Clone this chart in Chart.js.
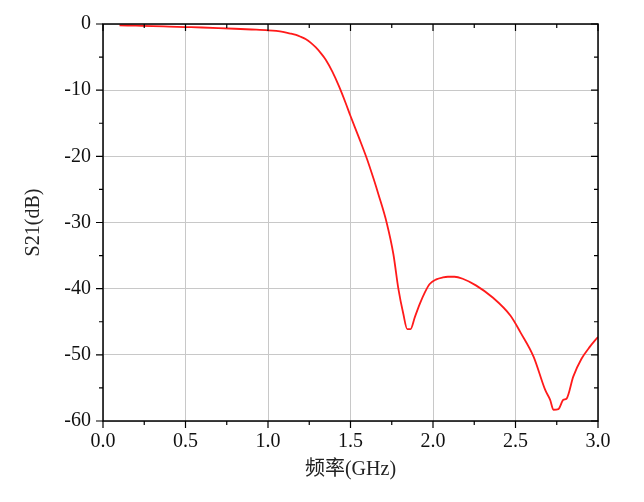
<!DOCTYPE html>
<html>
<head>
<meta charset="utf-8">
<script src="https://cdn.jsdelivr.net/npm/chart.js@4"></script>
<style>
html,body{margin:0;padding:0;background:#fff;}
#wrap{width:644px;height:502px;position:relative;}
</style>
</head>
<body>
<div id="wrap"><canvas id="c" width="644" height="502"></canvas></div>
<script>
const freq = [0.1,0.2,0.3,0.4,0.5,0.6,0.7,0.8,0.9,1.0,1.05,1.09,1.13,1.17,1.2,1.23,1.26,1.29,1.32,1.35,1.39,1.43,1.47,1.50,1.55,1.60,1.64,1.67,1.72,1.76,1.79,1.82,1.844,1.864,1.89,1.92,1.95,1.98,2.02,2.06,2.09,2.13,2.18,2.26,2.36,2.47,2.53,2.61,2.68,2.71,2.73,2.76,2.79,2.81,2.85,2.90,2.95,3.0];
const s21 = [-0.2,-0.26,-0.32,-0.39,-0.46,-0.53,-0.62,-0.72,-0.83,-0.95,-1.05,-1.18,-1.4,-1.65,-1.95,-2.3,-2.85,-3.55,-4.4,-5.4,-7.2,-9.4,-11.9,-13.9,-17.1,-20.4,-23.4,-25.8,-30.1,-34.8,-40.0,-43.8,-46.1,-46.1,-44.3,-42.3,-40.6,-39.3,-38.6,-38.3,-38.2,-38.2,-38.5,-39.5,-41.3,-44.1,-46.6,-50.3,-55.3,-56.8,-58.3,-58.2,-56.8,-56.6,-53.3,-50.6,-48.8,-47.3];
const xTicks = [0.0,0.5,1.0,1.5,2.0,2.5,3.0];
const yTicks = [0,-10,-20,-30,-40,-50,-60];
const xTitle = '频率(GHz)';
const yTitle = 'S21(dB)';

const pts = freq.map((f,i)=>({x:f,y:s21[i]}));
const FONT = "'Liberation Serif', 'Times New Roman', 'Noto Sans CJK SC', serif";

const framePlugin = {
  id:'frame',
  afterDraw(chart){
    const {ctx, chartArea:a, scales:{x,y}} = chart;
    ctx.save();
    ctx.strokeStyle='#000';
    ctx.lineWidth=1.5;
    ctx.strokeRect(a.left,a.top,a.right-a.left,a.bottom-a.top);
    ctx.lineWidth=1.2;
    ctx.beginPath();
    for(let v=0; v<=3.0001; v+=0.25){
      const px = x.getPixelForValue(v);
      const major = Math.abs(v/0.5 - Math.round(v/0.5))<1e-6;
      const L = major?7:4;
      ctx.moveTo(px,a.bottom); ctx.lineTo(px,a.bottom+L);
      ctx.moveTo(px,a.top); ctx.lineTo(px,a.top+L);
    }
    for(let v=0; v>=-60.0001; v-=5){
      const py = y.getPixelForValue(v);
      const major = Math.abs(v/10 - Math.round(v/10))<1e-6;
      const L = major?7:4;
      ctx.moveTo(a.left,py); ctx.lineTo(a.left-L,py);
      ctx.moveTo(a.right,py); ctx.lineTo(a.right-L,py);
    }
    ctx.stroke();
    ctx.restore();
  }
};

new Chart(document.getElementById('c'),{
  type:'scatter',
  data:{datasets:[{
    data:pts,
    showLine:true,
    borderColor:'#ff1a1a',
    borderWidth:1.8,
    pointRadius:0,
    cubicInterpolationMode:'monotone',
    fill:false
  }]},
  options:{
    responsive:false,
    animation:false,
    plugins:{legend:{display:false},tooltip:{enabled:false}},
    layout:{padding:{top:22,right:46,left:0,bottom:0}},
    scales:{
      x:{
        type:'linear',min:0,max:3,
        afterBuildTicks(s){ s.ticks = xTicks.map(v=>({value:v})); },
        afterFit(s){ s.height = 81; },
        grid:{color:'#c8c8c8',lineWidth:1,drawTicks:false},
        border:{display:false},
        ticks:{
          padding:9,color:'#111',
          font:{family:FONT,size:20},
          callback:v=>Number(v).toFixed(1),
          maxRotation:0
        },
        title:{display:true,text:xTitle,color:'#222',font:{family:FONT,size:20},padding:{top:2,bottom:20}}
      },
      y:{
        type:'linear',min:-60,max:0,
        afterBuildTicks(s){ s.ticks = yTicks.map(v=>({value:v})); },
        afterFit(s){ s.width = 103; },
        grid:{color:'#c8c8c8',lineWidth:1,drawTicks:false},
        border:{display:false},
        ticks:{
          padding:12,color:'#111',
          font:{family:FONT,size:20},
          callback:v=>String(v)
        },
        title:{display:true,text:yTitle,color:'#222',font:{family:FONT,size:20},padding:{top:22,bottom:0}}
      }
    }
  },
  plugins:[framePlugin]
});
</script>
</body>
</html>
